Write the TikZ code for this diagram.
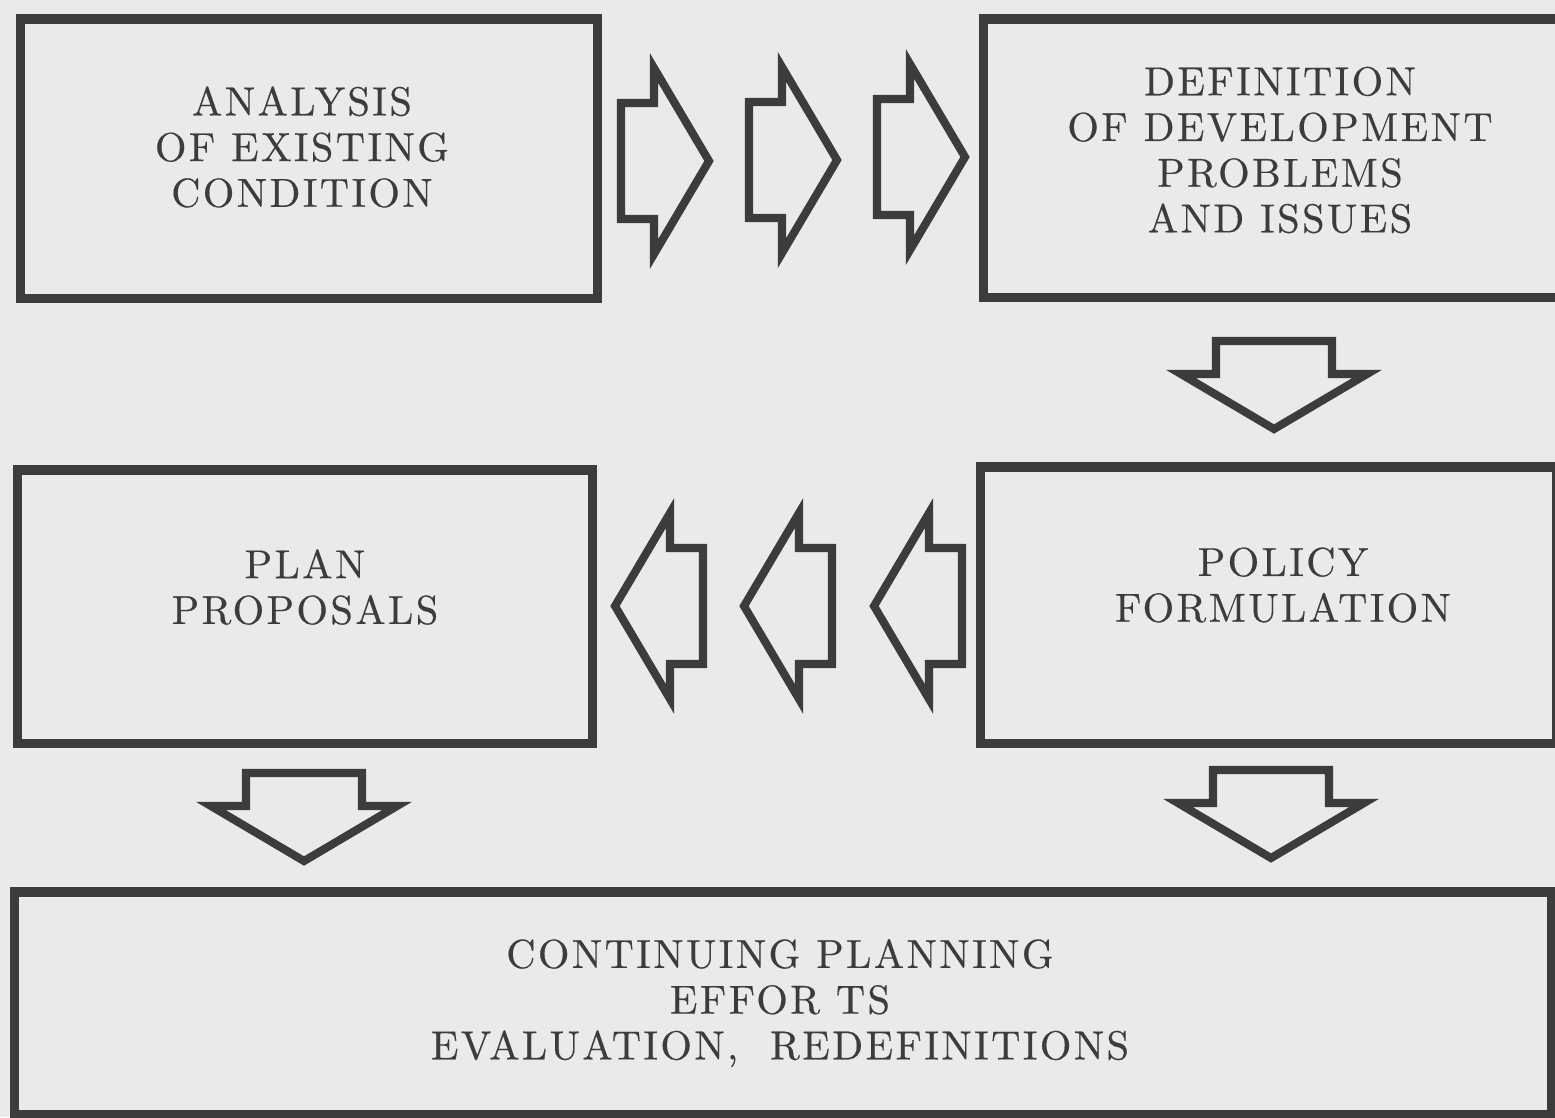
\documentclass[tikz,border=0pt]{standalone}
\usepackage{fontspec}
\usepackage{tikz}
\usetikzlibrary{calc}
\newfontfamily\stagefont{lmroman10-regular}[Extension=.otf, LetterSpace=6, FakeBold=0.4]
\definecolor{paper}{HTML}{EAEAEA}
\definecolor{ink}{HTML}{3C3C3C}
\tikzset{
  stage/.style={draw=ink, line width=2.6pt, fill=paper, rectangle, inner sep=0pt},
  stageLbl/.style={text=ink, align=center,
    font=\stagefont\fontsize{11.5}{13}\selectfont},
  fatEdge/.style={draw=ink, line width=2.3pt, line join=miter, fill=paper},
  % hollow block arrow pointing along +x, origin at the back of the shaft
  fatarrow/.pic={
    \draw[fatEdge] (0,-58) -- (33,-58) -- (33,-93) -- (88,0) -- (33,93)
      -- (33,58) -- (0,58) -- cycle;
  },
}

\begin{document}
\begin{tikzpicture}[x=0.01cm, y=-0.01cm]
  \fill[paper] (0,0) rectangle (1555,1117);
  \useasboundingbox (0,0) rectangle (1555,1117);

  % the five stages
  \node[stage, minimum width=5.76cm, minimum height=2.79cm] (analysis)   at (309,158.5) {};
  \node[stage, minimum width=5.81cm, minimum height=2.78cm] (definition) at (1274.5,158) {};
  \node[stage, minimum width=5.74cm, minimum height=2.73cm] (plan)       at (305,606.5) {};
  \node[stage, minimum width=5.75cm, minimum height=2.76cm] (policy)     at (1268.5,605) {};
  \node[stage, minimum width=15.36cm, minimum height=2.22cm] (continuing) at (783,1003) {};

  \node[stageLbl] (analysisTxt)   at (302,147)  {ANALYSIS\\OF EXISTING\\CONDITION};
  \node[stageLbl] (definitionTxt) at (1280,150) {DEFINITION\\OF DEVELOPMENT\\PROBLEMS\\AND ISSUES};
  \node[stageLbl] (planTxt)       at (305,587)  {PLAN\\PROPOSALS};
  \node[stageLbl] (policyTxt)     at (1283,585) {POLICY\\FORMULATION};
  \node[stageLbl] (continuingTxt) at (780,1003) {CONTINUING PLANNING\\EFFOR TS\\EVALUATION,\ \ REDEFINITIONS};

  % analysis -> definition
  \foreach \x/\y in {621/161, 749/160, 877/157}
    \pic at (\x,\y) {fatarrow};
  % policy -> plan
  \foreach \x in {703, 832, 962}
    \pic[rotate=180] at (\x,606) {fatarrow};
  % downward steps
  \pic[rotate=-90] at (1274,341) {fatarrow};
  \pic[rotate=-90] at (304,773) {fatarrow};
  \pic[rotate=-90] at (1271,770) {fatarrow};
\end{tikzpicture}
\end{document}
